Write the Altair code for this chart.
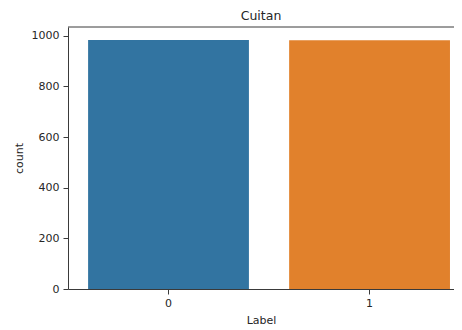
import altair as alt
import pandas as pd

labels = ["0", "1"]
counts = [984, 983]
colors = ["#3274a1", "#e1812c"]
y_ticks = [0, 200, 400, 600, 800, 1000]

df = pd.DataFrame({"Label": labels, "count": counts})

W, H = 386, 262
FONT = "DejaVu Sans"
TXT = "#262626"
LINE = "#3a3a3a"

bars = alt.Chart(df).mark_bar().encode(
    x=alt.X(
        "Label:N",
        sort=labels,
        scale=alt.Scale(paddingInner=0.2, paddingOuter=0.06, align=0.833),
        axis=alt.Axis(
            title="Label", labelAngle=0, labelPadding=3, titlePadding=6,
            tickSize=5, ticks=True,
        ),
    ),
    y=alt.Y(
        "count:Q",
        scale=alt.Scale(domain=[0, 1035], nice=False, zero=True),
        axis=alt.Axis(
            title="count", values=y_ticks, format="d", grid=False, tickSize=5,
            labelPadding=4, titlePadding=7,
        ),
    ),
    color=alt.Color("Label:N", scale=alt.Scale(domain=labels, range=colors), legend=None),
)

top_spine = alt.Chart(pd.DataFrame({"a": [0]})).mark_rule(color=LINE, strokeWidth=1).encode(
    x=alt.value(0), x2=alt.value(W), y=alt.value(0)
)

chart = (
    alt.layer(bars, top_spine)
    .properties(
        width=W,
        height=H,
        title=alt.Title("Cuitan", fontSize=12.5, font=FONT, color=TXT, fontWeight="normal", offset=4),
        autosize=alt.AutoSizeParams(type="none"),
        padding={"left": 60, "top": 19, "right": 0, "bottom": 36},
    )
    .configure_view(stroke=None)
    .configure_axis(
        labelFont=FONT, titleFont=FONT, labelFontSize=11, titleFontSize=11,
        labelColor=TXT, titleColor=TXT, titleFontWeight="normal",
        domainColor=LINE, tickColor=LINE, domainWidth=1, tickWidth=1,
    )
)

chart.save("out.html", embed_options={"renderer": "svg", "actions": False})
